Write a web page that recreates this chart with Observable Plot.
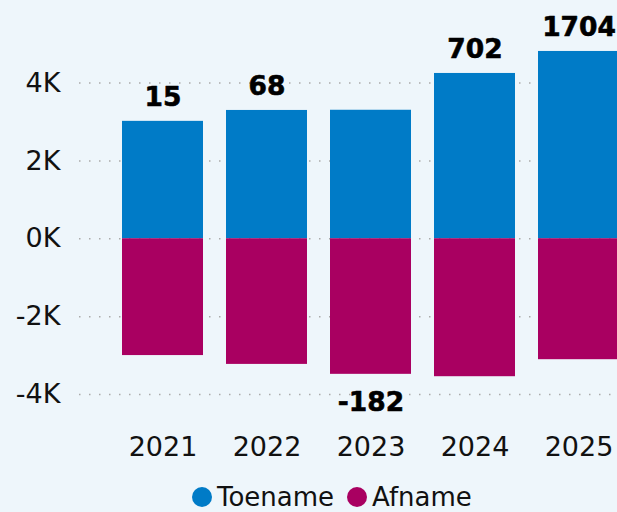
<!DOCTYPE html>
<html>
<head>
<meta charset="utf-8">
<script src="https://cdn.jsdelivr.net/npm/d3@7"></script>
<script src="https://cdn.jsdelivr.net/npm/@observablehq/plot@0.6"></script>
<style>
  html, body { margin: 0; padding: 0; background: #eef6fb; overflow: hidden; width: 617px; height: 512px; }
  body { position: relative; font-family: "DejaVu Sans", sans-serif; }
  #chart svg { overflow: hidden; display: block; }
  #legend { position: absolute; left: 192px; top: 482px; display: flex; align-items: center; font-size: 26px; color: #111; line-height: 30px; white-space: nowrap; }
  #legend .item { display: flex; align-items: center; margin-right: 13px; }
  #legend .dot { width: 20px; height: 20px; border-radius: 50%; margin-right: 5px; }
</style>
</head>
<body>
<div id="chart"></div>
<div id="legend"></div>
<script>
const years = ["2021", "2022", "2023", "2024", "2025"];
const toename = [3015, 3295, 3300, 4245, 4810];
const afname = [-3000, -3227, -3482, -3543, -3106];
const netto = [15, 68, -182, 702, 1704];
const series = ["Toename", "Afname"];
const colors = ["#007bc7", "#a90061"];
const yTicks = [-4000, -2000, 0, 2000, 4000];

const bars = [];
years.forEach((y, i) => {
  bars.push({year: y, series: "Toename", value: toename[i]});
  bars.push({year: y, series: "Afname", value: afname[i]});
});
const labels = years.map((y, i) => ({year: y, net: netto[i], top: toename[i], bottom: afname[i]}));

const chart = Plot.plot({
  width: 617,
  height: 480,
  marginLeft: 79,
  marginRight: 0,
  marginTop: 0,
  marginBottom: 44,
  style: {background: "transparent", fontFamily: "DejaVu Sans, sans-serif", fontSize: "26px", color: "#111"},
  x: {domain: years, range: [79, 661.8], paddingInner: 0.2234, paddingOuter: 0.4056, label: null},
  y: {domain: [-4000, 4000], range: [394, 82.5], label: null},
  color: {domain: series, range: colors},
  marks: [
    Plot.gridY(yTicks, {stroke: "#aaa", strokeOpacity: 1, strokeWidth: 1.5, strokeDasharray: "1.5,8.5"}),
    Plot.barY(bars, {x: "year", y: "value", fill: "series"}),
    Plot.axisY({ticks: yTicks, tickFormat: d => `${d / 1000}K`, tickSize: 0, tickPadding: 19, fontSize: 27}),
    Plot.axisX({tickSize: 0, tickPadding: 0, fontSize: 27}),
    Plot.text(labels.filter(d => d.net >= 0), {x: "year", y: "top", text: d => String(d.net), lineAnchor: "bottom", dy: -15, fontWeight: "bold", fontSize: 26.5, fill: "#000", stroke: "#000", strokeWidth: 0.6}),
    Plot.text(labels.filter(d => d.net < 0), {x: "year", y: "bottom", text: d => String(d.net), lineAnchor: "top", dy: 18, fontWeight: "bold", fontSize: 26.5, fill: "#000", stroke: "#000", strokeWidth: 0.6})
  ]
});
document.getElementById("chart").appendChild(chart);

const legend = document.getElementById("legend");
series.forEach((s, i) => {
  const item = document.createElement("div");
  item.className = "item";
  const dot = document.createElement("span");
  dot.className = "dot";
  dot.style.background = colors[i];
  const label = document.createElement("span");
  label.textContent = s;
  item.appendChild(dot);
  item.appendChild(label);
  legend.appendChild(item);
});
</script>
</body>
</html>
